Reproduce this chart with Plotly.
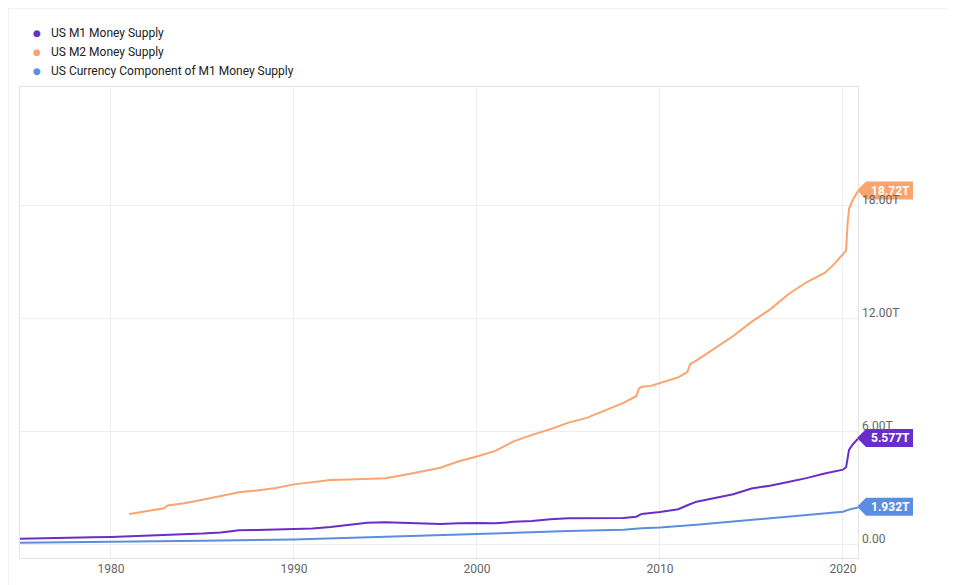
import plotly.graph_objects as go

# ---- data (trillions USD, decimal years) ----
m1_years = [1975.0, 1976, 1977, 1978, 1979, 1980, 1981, 1982, 1983, 1984, 1985, 1986, 1987,
            1988, 1989, 1990, 1991, 1992, 1993, 1994, 1995, 1996, 1997, 1998, 1999, 2000,
            2001, 2002, 2003, 2004, 2005, 2006, 2007, 2008, 2008.7, 2008.9, 2009, 2010,
            2011, 2011.6, 2012, 2013, 2014, 2015, 2016, 2017, 2018, 2019, 2020.0, 2020.17,
            2020.25, 2020.33, 2020.5, 2020.67, 2020.8]
m1_vals = [0.28, 0.29, 0.31, 0.33, 0.36, 0.38, 0.41, 0.44, 0.48, 0.52, 0.56, 0.62, 0.73,
           0.75, 0.78, 0.79, 0.82, 0.90, 1.02, 1.13, 1.16, 1.12, 1.08, 1.07, 1.10, 1.12,
           1.10, 1.18, 1.22, 1.32, 1.37, 1.38, 1.37, 1.38, 1.45, 1.58, 1.60, 1.70,
           1.85, 2.10, 2.25, 2.45, 2.65, 2.95, 3.10, 3.30, 3.50, 3.75, 3.95, 4.08,
           4.70, 5.00, 5.25, 5.45, 5.577]

m2_years = [1981.0, 1982, 1982.9, 1983.1, 1984, 1985, 1986, 1987, 1988, 1989, 1990, 1991,
            1992, 1993, 1994, 1995, 1996, 1997, 1998, 1999, 2000, 2001, 2002, 2003, 2004,
            2005, 2006, 2007, 2008, 2008.7, 2008.85, 2009, 2009.5, 2010, 2011, 2011.5,
            2011.65, 2012, 2013, 2014, 2015, 2016, 2017, 2018, 2019, 2019.5, 2020.0,
            2020.17, 2020.25, 2020.33, 2020.5, 2020.67, 2020.8]
m2_vals = [1.60, 1.75, 1.90, 2.05, 2.17, 2.35, 2.53, 2.75, 2.85, 2.98, 3.17, 3.30,
           3.40, 3.43, 3.48, 3.50, 3.67, 3.85, 4.05, 4.40, 4.65, 4.95, 5.45, 5.80, 6.10,
           6.45, 6.70, 7.10, 7.50, 7.85, 8.25, 8.35, 8.40, 8.55, 8.85, 9.15,
           9.55, 9.75, 10.40, 11.05, 11.80, 12.45, 13.25, 13.90, 14.40, 14.85, 15.40,
           15.60, 17.00, 17.80, 18.20, 18.50, 18.72]

cur_years = [1975.0, 1980, 1985, 1990, 1995, 2000, 2005, 2008, 2009, 2010, 2012, 2014,
             2016, 2018, 2019, 2020.0, 2020.25, 2020.5, 2020.8]
cur_vals = [0.07, 0.11, 0.17, 0.24, 0.37, 0.53, 0.70, 0.76, 0.84, 0.88, 1.02, 1.20,
            1.38, 1.58, 1.66, 1.72, 1.80, 1.88, 1.932]

series_names = ["US M1 Money Supply", "US M2 Money Supply",
                "US Currency Component of M1 Money Supply"]
end_labels = ["5.577T", "18.72T", "1.932T"]
x_ticks = [1980, 1990, 2000, 2010, 2020]
y_ticks = [0, 6, 12, 18]
y_tick_labels = ["0.00", "6.00T", "12.00T", "18.00T"]

colors = ["#6a2ec8", "#fba46e", "#5b8ee0"]
FONT = "Roboto, Arial, sans-serif"

# page geometry: the figure sits 8px inside the page (default body margin)
OFF = 8
W, H = 947, 577
ML, MR, MT, MB = 12, 97, 79, 27
PW, PH = W - ML - MR, H - MT - MB


def px_x(px):  # screen pixel -> paper x
    return (px - OFF - ML) / PW


def px_y(py):  # screen pixel -> paper y
    return (OFF + H - MB - py) / PH


fig = go.Figure()
data = [(m1_years, m1_vals), (m2_years, m2_vals), (cur_years, cur_vals)]

for (xs, ys), name, c in zip(data, series_names, colors):
    fig.add_trace(go.Scatter(x=xs, y=ys, mode="lines", name=name,
                             line=dict(color=c, width=2), showlegend=False,
                             hoverinfo="skip"))

# legend (dots + labels)
for i, (name, c) in enumerate(zip(series_names, colors)):
    row_y = px_y(33 + 19 * i)
    fig.add_annotation(xref="paper", yref="paper", x=px_x(37), y=row_y, text="●",
                       showarrow=False, xanchor="center", yanchor="middle",
                       font=dict(family="DejaVu Sans", size=9, color=c))
    fig.add_annotation(xref="paper", yref="paper", x=px_x(49), y=row_y, text=name,
                       showarrow=False, xanchor="left", yanchor="middle",
                       font=dict(family=FONT, size=12, color="#222222"))

# y tick labels (above gridlines, right side)
for v, t in zip(y_ticks, y_tick_labels):
    fig.add_annotation(x=1, xref="paper", y=v, yref="y", text=t, showarrow=False,
                       xanchor="left", yanchor="bottom", xshift=2, yshift=-4,
                       font=dict(family=FONT, size=12, color="#666666"))

# end tags
shapes = []
for (xs, ys), c, lab in zip(data, colors, end_labels):
    shapes.append(dict(type="path", xref="paper", yref="y", xsizemode="pixel",
                       ysizemode="pixel", xanchor=1, yanchor=ys[-1],
                       path="M -1 1 L 8 10 L 55 10 L 55 -8 L 8 -8 Z",
                       fillcolor=c, line=dict(width=0), layer="above"))
    fig.add_annotation(x=1, xref="paper", y=ys[-1], yref="y", text="<b>" + lab + "</b>",
                       showarrow=False, xanchor="center", yanchor="middle", xshift=32,
                       yshift=1, font=dict(family=FONT, size=12, color="white"))

# outer light frame
shapes.append(dict(type="rect", xref="paper", yref="paper", x0=px_x(8), x1=px_x(948),
                   y0=px_y(600), y1=px_y(8), line=dict(color="#e6e6e6", width=1),
                   fillcolor="rgba(0,0,0,0)", layer="below"))

fig.update_layout(
    width=W, height=H,
    margin=dict(l=ML, r=MR, t=MT, b=MB),
    paper_bgcolor="white", plot_bgcolor="white",
    font=dict(family=FONT, size=12, color="#333333"),
    shapes=shapes,
    showlegend=False,
    xaxis=dict(range=[1975.03, 2020.82], tickvals=x_ticks,
               ticktext=[str(v) for v in x_ticks], automargin=False,
               showgrid=True, gridcolor="#eeeeee", gridwidth=1,
               zeroline=False, showline=True, linecolor="#e3e3e3", mirror=True,
               ticks="", tickfont=dict(family=FONT, size=12, color="#666666")),
    yaxis=dict(range=[-0.74, 24.27], tickvals=y_ticks, showticklabels=False,
               showgrid=True, gridcolor="#eeeeee", gridwidth=1, automargin=False,
               zeroline=False, showline=True, linecolor="#e3e3e3", mirror=True,
               ticks=""),
)

fig.write_html("out.html")
